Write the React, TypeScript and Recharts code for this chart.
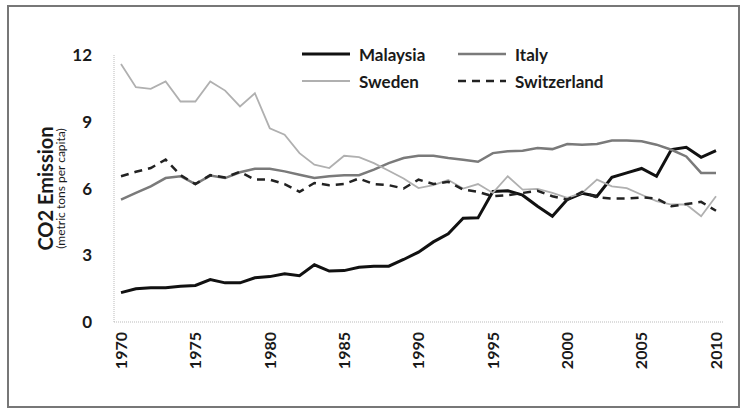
import React from 'react';
import { LineChart, Line, XAxis, YAxis, Legend } from 'recharts';

const years = [
  '1970', '1971', '1972', '1973', '1974', '1975', '1976', '1977', '1978', '1979',
  '1980', '1981', '1982', '1983', '1984', '1985', '1986', '1987', '1988', '1989',
  '1990', '1991', '1992', '1993', '1994', '1995', '1996', '1997', '1998', '1999',
  '2000', '2001', '2002', '2003', '2004', '2005', '2006', '2007', '2008', '2009', '2010',
];

const malaysia = [
  1.32, 1.49, 1.54, 1.54, 1.61, 1.64, 1.91, 1.76, 1.76, 1.99,
  2.04, 2.17, 2.08, 2.57, 2.29, 2.31, 2.46, 2.51, 2.51, 2.81,
  3.14, 3.6, 3.96, 4.66, 4.68, 5.87, 5.9, 5.7, 5.2, 4.75,
  5.5, 5.78, 5.65, 6.5, 6.7, 6.9, 6.55, 7.75, 7.85, 7.4, 7.7,
];

const italy = [
  5.5, 5.8, 6.1, 6.47, 6.55, 6.2, 6.58, 6.47, 6.73, 6.89,
  6.89, 6.77, 6.62, 6.47, 6.55, 6.6, 6.6, 6.85, 7.14, 7.37,
  7.47, 7.47, 7.37, 7.29, 7.2, 7.59, 7.67, 7.7, 7.82, 7.77,
  8.0, 7.97, 8.0, 8.16, 8.16, 8.12, 7.97, 7.74, 7.44, 6.7, 6.7,
];

const sweden = [
  11.6, 10.55, 10.48, 10.81, 9.91, 9.91, 10.81, 10.4, 9.69, 10.28,
  8.71, 8.42, 7.59, 7.07, 6.92, 7.47, 7.41, 7.14, 6.8, 6.45,
  6.02, 6.15, 6.38, 6.0, 6.2, 5.8, 6.55, 5.95, 5.98, 5.8,
  5.58, 5.8, 6.4, 6.1, 6.02, 5.72, 5.43, 5.28, 5.28, 4.75, 5.65,
];

const switzerland = [
  6.55, 6.75, 6.92, 7.3, 6.6, 6.2, 6.6, 6.5, 6.75, 6.4,
  6.4, 6.2, 5.85, 6.25, 6.15, 6.2, 6.45, 6.2, 6.15, 6.0,
  6.4, 6.2, 6.3, 5.95, 5.85, 5.65, 5.7, 5.8, 5.9, 5.65,
  5.5, 5.85, 5.6, 5.55, 5.55, 5.6, 5.55, 5.2, 5.3, 5.4, 5.0,
];

const seriesOrder = ['Malaysia', 'Italy', 'Sweden', 'Switzerland'];
const yTicks = [0, 3, 6, 9, 12];

const data = years.map((year, i) => ({
  year,
  Malaysia: malaysia[i],
  Italy: italy[i],
  Sweden: sweden[i],
  Switzerland: switzerland[i],
}));

const FONT = "Lato, 'Open Sans', sans-serif";

const XTick = (props: any) => {
  const { x, y, payload } = props;
  return (
    <g transform={`translate(${x},${y}) rotate(-90)`}>
      <text x={0} y={0} dy="0.36em" textAnchor="end" fontFamily={FONT} fontWeight={700} fontSize={16} fill="#1a1a1a">
        {payload.value}
      </text>
    </g>
  );
};

const YTitle = (props: any) => {
  const vb = props.viewBox || { x: 0, y: 0, width: 0, height: 0 };
  const cy = vb.y + vb.height / 2;
  const x1 = vb.x - 9;
  const x2 = vb.x + 6;
  return (
    <g>
      <text x={x1} y={cy} transform={`rotate(-90, ${x1}, ${cy})`} textAnchor="middle" dominantBaseline="central"
        fontFamily={FONT} fontWeight={700} fontSize={20} fill="#1a1a1a">
        CO2 Emission
      </text>
      <text x={x2} y={cy} transform={`rotate(-90, ${x2}, ${cy})`} textAnchor="middle" dominantBaseline="central"
        fontFamily={FONT} fontSize={12} fill="#1a1a1a">
        (metric tons per capita)
      </text>
    </g>
  );
};

const LegendBox = (props: any) => {
  const items = [...(props.payload || [])].sort(
    (a: any, b: any) => seriesOrder.indexOf(a.value) - seriesOrder.indexOf(b.value)
  );
  return (
    <div style={{ display: 'grid', gridTemplateColumns: '156px 170px', rowGap: 5, fontFamily: FONT }}>
      {items.map((it: any) => (
        <div key={it.value} style={{ display: 'flex', alignItems: 'center', height: 22 }}>
          <svg width={48} height={8} style={{ marginRight: 9 }}>
            <line x1={0} y1={4} x2={48} y2={4} stroke={it.color}
              strokeWidth={it.payload?.strokeWidth ?? 2}
              strokeDasharray={it.payload?.strokeDasharray} />
          </svg>
          <span style={{ fontSize: 17, fontWeight: 700, color: '#1a1a1a' }}>{it.value}</span>
        </div>
      ))}
    </div>
  );
};

export default function App() {
  return (
    <div style={{ position: 'absolute', left: 0, top: 0, width: 742, height: 411, background: '#fff' }}>
      <div style={{ position: 'absolute', left: 7, top: 5, width: 733, height: 403, border: '2px solid #777', boxSizing: 'border-box' }} />
      <div style={{ position: 'absolute', left: 0, top: 0 }}>
        <LineChart width={742} height={411} data={data} margin={{ top: 55, right: 19, left: 54, bottom: 28 }}>
          <XAxis
            dataKey="year"
            interval={4}
            tick={<XTick />}
            tickLine={false}
            tickSize={6}
            tickMargin={4}
            height={61}
            padding={{ left: 7, right: 7 }}
            axisLine={{ stroke: '#bbb', strokeDasharray: '1 1' }}
          />
          <YAxis
            domain={[0, 12]}
            ticks={yTicks}
            width={60}
            tickLine={false}
            tickSize={6}
            tickMargin={16}
            axisLine={{ stroke: '#bbb', strokeDasharray: '1 1' }}
            tick={{ fontFamily: FONT, fontWeight: 700, fontSize: 17, fill: '#1a1a1a' }}
            label={<YTitle />}
          />
          <Legend
            layout="horizontal"
            verticalAlign="middle"
            align="center"
            content={<LegendBox />}
            wrapperStyle={{ top: 43, left: 302, width: 330 }}
          />
          <Line type="linear" dataKey="Malaysia" stroke="#111" strokeWidth={3} dot={false} isAnimationActive={false} />
          <Line type="linear" dataKey="Italy" stroke="#7a7a7a" strokeWidth={2.5} dot={false} isAnimationActive={false} />
          <Line type="linear" dataKey="Sweden" stroke="#b0b0b0" strokeWidth={1.8} dot={false} isAnimationActive={false} />
          <Line type="linear" dataKey="Switzerland" stroke="#222" strokeWidth={2.5} strokeDasharray="8 6" dot={false} isAnimationActive={false} />
        </LineChart>
      </div>
    </div>
  );
}
